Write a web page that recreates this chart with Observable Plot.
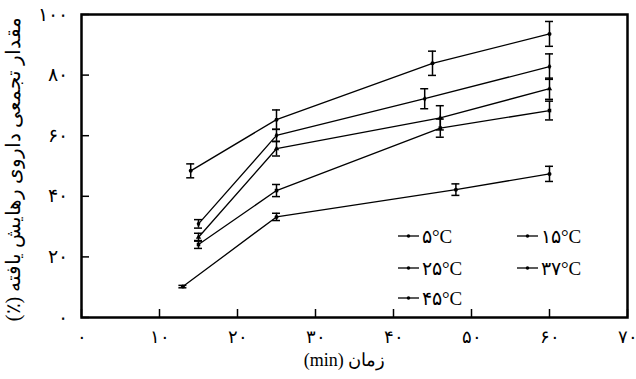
<!DOCTYPE html>
<html><head><meta charset="utf-8">
<script src="https://cdn.jsdelivr.net/npm/d3@7"></script>
<script src="https://cdn.jsdelivr.net/npm/@observablehq/plot@0.6"></script>
<style>body{margin:0;background:#fff}</style>
</head><body><div id="chart"></div>
<script>
// ---- data ----
const seriesNames = ["۵°C", "۱۵°C", "۲۵°C", "۳۷°C", "۴۵°C"];
const time5 = [13, 25, 48, 60];
const release5 = [10.2, 33.2, 42.2, 47.4];
const sd5 = [0.4, 1.2, 1.9, 2.5];
const time15 = [15, 25, 46, 60];
const release15 = [24.1, 41.9, 62.5, 68.3];
const sd15 = [1.3, 2.0, 3.0, 3.1];
const time25 = [15, 25, 46, 60];
const release25 = [26.5, 55.7, 65.9, 75.5];
const sd25 = [1.3, 2.4, 4.0, 3.5];
const time37 = [15, 25, 44, 60];
const release37 = [30.9, 60.1, 72.2, 82.8];
const sd37 = [1.4, 2.0, 3.3, 4.2];
const time45 = [14, 25, 45, 60];
const release45 = [48.4, 65.3, 83.9, 93.6];
const sd45 = [2.3, 3.2, 4.0, 4.1];
const xTicks = [0, 10, 20, 30, 40, 50, 60, 70];
const xTickLabels = ["۰", "۱۰", "۲۰", "۳۰", "۴۰", "۵۰", "۶۰", "۷۰"];
const yTicks = [0, 20, 40, 60, 80, 100];
const yTickLabels = ["۰", "۲۰", "۴۰", "۶۰", "۸۰", "۱۰۰"];
const xLabel = "زمان (min)";
const yLabel = "مقدار تجمعی داروی رهایش یافته (٪)";

// ---- table ----
const series = [
  {name: seriesNames[0], t: time5, v: release5, sd: sd5},
  {name: seriesNames[1], t: time15, v: release15, sd: sd15},
  {name: seriesNames[2], t: time25, v: release25, sd: sd25},
  {name: seriesNames[3], t: time37, v: release37, sd: sd37},
  {name: seriesNames[4], t: time45, v: release45, sd: sd45}
];
const rows = [];
series.forEach(s => s.t.forEach((t, i) => rows.push({series: s.name, t, v: s.v[i], sd: s.sd[i]})));

// ---- layout / style ----
const W = 636, H = 379, mL = 81, mR = 9, mT = 14, mB = 62;
const innerW = W - mL - mR, innerH = H - mT - mB;
const symbolRange = ["circle", "square", "triangle", "diamond", "circle"];
const FONT = "'Liberation Serif','DejaVu Serif',serif";
const legendColX = [317, 436], legendRowY = [222, 254, 284], legendLine = 21;

const legendMark = () => {
  const g = d3.create("svg:g").attr("font-family", FONT).attr("font-size", 19).attr("text-anchor", "start");
  seriesNames.forEach((name, i) => {
    const x0 = mL + legendColX[i % 2], y0 = mT + legendRowY[Math.floor(i / 2)];
    g.append("line").attr("x1", x0).attr("x2", x0 + legendLine).attr("y1", y0).attr("y2", y0)
      .attr("stroke", "black").attr("stroke-width", 1.3);
    g.append("path").attr("transform", `translate(${x0 + legendLine / 2},${y0})`)
      .attr("d", d3.symbol(d3.symbolCircle, 10)()).attr("fill", "black");
    g.append("text").attr("x", x0 + legendLine + 3).attr("y", y0).attr("dy", "0.35em").text(name);
  });
  return g.node();
};

const chart = Plot.plot({
  width: W, height: H,
  marginLeft: mL, marginRight: mR, marginTop: mT, marginBottom: mB,
  style: {fontFamily: FONT, fontSize: "18px", background: "white", color: "black"},
  x: {domain: [0, 70]},
  y: {domain: [0, 100]},
  symbol: {domain: seriesNames, range: symbolRange},
  marks: [
    Plot.tickX(xTicks, {x: d => d, insetTop: innerH - 8, strokeWidth: 1.5}),
    Plot.tickY(yTicks, {y: d => d, insetRight: innerW - 8, strokeWidth: 1.5}),
    Plot.axisX({ticks: xTicks, tickSize: 0, tickPadding: 13, label: null, fontSize: 18,
      tickFormat: d => xTickLabels[xTicks.indexOf(d)]}),
    Plot.axisY({ticks: yTicks, tickSize: 0, tickPadding: 14, label: null, fontSize: 19,
      tickFormat: d => yTickLabels[yTicks.indexOf(d)]}),
    Plot.line(rows, {x: "t", y: "v", z: "series", stroke: "black", strokeWidth: 1.3}),
    Plot.ruleX(rows, {x: "t", y1: d => d.v - d.sd, y2: d => d.v + d.sd, stroke: "black", strokeWidth: 1.5}),
    Plot.ruleY(rows, {x1: "t", x2: "t", y: d => d.v + d.sd, insetLeft: -4, insetRight: -4, stroke: "black", strokeWidth: 1.5}),
    Plot.ruleY(rows, {x1: "t", x2: "t", y: d => d.v - d.sd, insetLeft: -4, insetRight: -4, stroke: "black", strokeWidth: 1.5}),
    Plot.dot(rows, {x: "t", y: "v", symbol: "series", r: 2, fill: "black", stroke: "none"}),
    Plot.text([xLabel], {frameAnchor: "bottom", dy: 48, dx: -10, fontSize: 18, text: d => d}),
    Plot.text([yLabel], {frameAnchor: "left", dx: -68, dy: 3, rotate: -90, textAnchor: "middle", fontSize: 20, text: d => d}),
    Plot.frame({stroke: "black", strokeWidth: 2.5}),
    legendMark
  ]
});
chart.querySelectorAll("text").forEach(t => {
  if (t.textContent === xLabel || t.textContent === yLabel) t.setAttribute("direction", "rtl");
});
document.getElementById("chart").appendChild(chart);
</script>
</body></html>
